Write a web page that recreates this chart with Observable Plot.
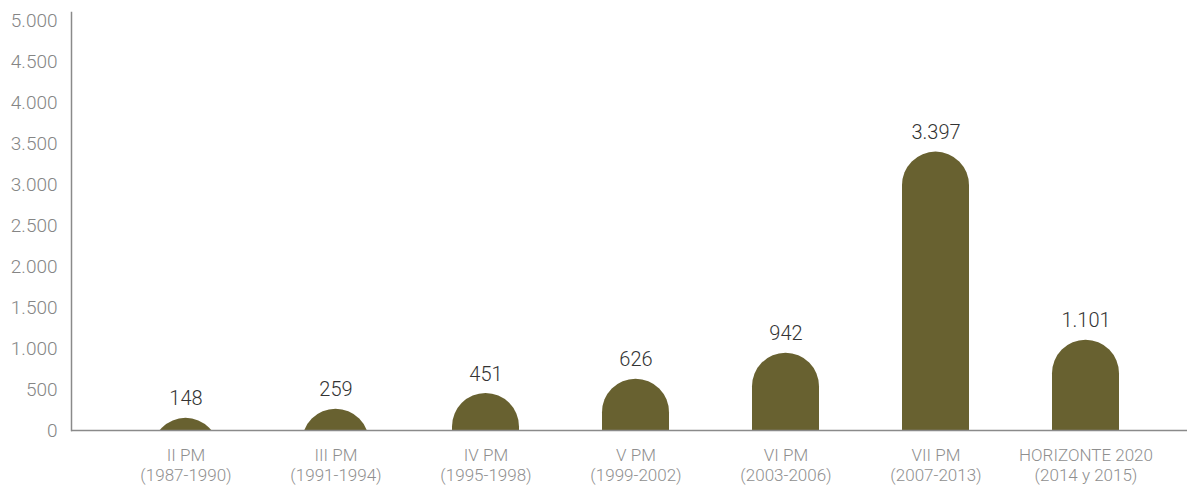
<!DOCTYPE html>
<html>
<head>
<meta charset="utf-8">
<script src="https://cdn.jsdelivr.net/npm/d3@7"></script>
<script src="https://cdn.jsdelivr.net/npm/@observablehq/plot@0.6"></script>
<style>
  html, body { margin: 0; padding: 0; background: #fff; }
  #chart svg { font-family: Roboto, "Noto Sans", sans-serif; font-weight: 300; }
</style>
</head>
<body>
<div id="chart"></div>
<script>
const programmes = ["II PM", "III PM", "IV PM", "V PM", "VI PM", "VII PM", "HORIZONTE 2020"];
const periods = ["(1987-1990)", "(1991-1994)", "(1995-1998)", "(1999-2002)", "(2003-2006)", "(2007-2013)", "(2014 y 2015)"];
const values = [148, 259, 451, 626, 942, 3397, 1101];
const yTicks = [0, 500, 1000, 1500, 2000, 2500, 3000, 3500, 4000, 4500, 5000];

const locale = d3.formatLocale({decimal: ",", thousands: ".", grouping: [3], currency: ["", "€"]});
const fmt = locale.format(",");

const data = programmes.map((p, i) => ({key: p + "\n" + periods[i], value: values[i]}));

const chart = Plot.plot({
  width: 1189,
  height: 485,
  marginTop: 12,
  marginBottom: 55,
  marginLeft: 71,
  marginRight: 2,
  style: {fontFamily: "Roboto, 'Noto Sans', sans-serif", background: "#fff"},
  x: {domain: data.map(d => d.key), paddingInner: 0.556, paddingOuter: 0.4735, align: 0.542, label: null},
  y: {domain: [0, 5100], label: null},
  marks: [
    Plot.barY(data, {x: "key", y: "value", fill: "#686130", rx: 33.5, insetBottom: -60, clip: true}),
    Plot.frame({anchor: "left", stroke: "#8a8a8a", strokeWidth: 1.5}),
    Plot.ruleY([0], {stroke: "#8a8a8a", strokeWidth: 1.5}),
    Plot.text(data, {x: "key", y: "value", text: d => fmt(d.value), lineAnchor: "bottom", dy: -13, fontSize: 20, fill: "#333", fontWeight: 300}),
    Plot.axisY({ticks: yTicks, tickFormat: fmt, tickSize: 0, tickPadding: 14, fontSize: 19, fill: "#858585", label: null}),
    Plot.axisX({tickSize: 0, tickPadding: 16, fontSize: 17, fill: "#8f8f8f", lineHeight: 1.2, label: null})
  ]
});
document.getElementById("chart").appendChild(chart);
</script>
</body>
</html>
